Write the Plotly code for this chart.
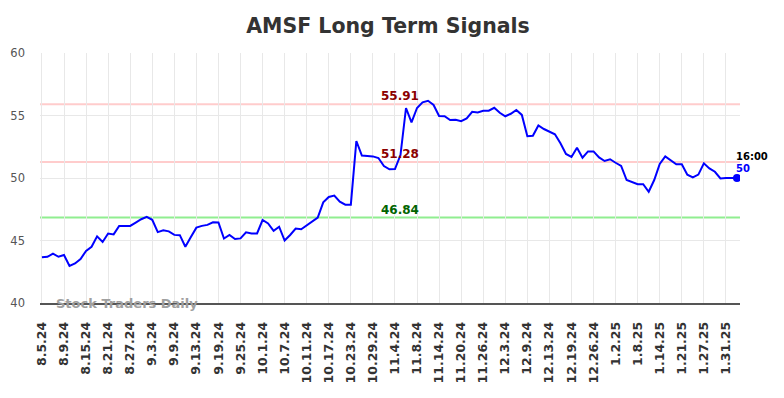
import pandas as pd
import plotly.graph_objects as go

# Trading days 8.5.24 .. 2.4.25 (US market holidays removed)
holidays = ["2024-09-02", "2024-11-28", "2024-12-25", "2025-01-01", "2025-01-20"]
days = [d for d in pd.bdate_range("2024-08-05", "2025-02-04") if d.strftime("%Y-%m-%d") not in holidays]
dates = [f"{d.month}.{d.day}.{d.strftime('%y')}" for d in days]

prices = [
    43.66, 43.70, 43.95, 43.70, 43.84, 42.97, 43.16, 43.52, 44.17, 44.50,
    45.33, 44.88, 45.56, 45.49, 46.17, 46.17, 46.17, 46.43, 46.70, 46.90,
    46.66, 45.67, 45.82, 45.73, 45.45, 45.43, 44.50, 45.28, 46.03, 46.17,
    46.25, 46.46, 46.44, 45.16, 45.44, 45.12, 45.17, 45.66, 45.57, 45.57,
    46.64, 46.37, 45.78, 46.10, 45.00, 45.44, 45.95, 45.90, 46.20, 46.50,
    46.83, 48.05, 48.48, 48.59, 48.10, 47.87, 47.87, 52.96, 51.80, 51.76,
    51.73, 51.60, 50.96, 50.70, 50.72, 51.84, 55.60, 54.45, 55.60, 56.05,
    56.18, 55.84, 54.96, 54.94, 54.64, 54.66, 54.54, 54.77, 55.30, 55.25,
    55.38, 55.38, 55.62, 55.22, 54.94, 55.14, 55.44, 55.05, 53.34, 53.38,
    54.20, 53.92, 53.68, 53.50, 52.78, 51.92, 51.68, 52.42, 51.62, 52.13,
    52.13, 51.65, 51.36, 51.50, 51.22, 50.96, 49.84, 49.66, 49.50, 49.50,
    48.90, 49.84, 51.12, 51.73, 51.44, 51.10, 51.10, 50.27, 50.05, 50.27,
    51.17, 50.77, 50.50, 49.97, 50.00, 50.00, 50.00,
]

tick_labels = [
    "8.5.24", "8.9.24", "8.15.24", "8.21.24", "8.27.24", "9.3.24", "9.9.24",
    "9.13.24", "9.19.24", "9.25.24", "10.1.24", "10.7.24", "10.11.24",
    "10.17.24", "10.23.24", "10.29.24", "11.4.24", "11.8.24", "11.14.24",
    "11.20.24", "11.26.24", "12.3.24", "12.9.24", "12.13.24", "12.19.24",
    "12.26.24", "1.2.25", "1.8.25", "1.14.25", "1.21.25", "1.27.25", "1.31.25",
]

levels = [55.91, 51.28, 46.84]
level_colors = ["#ffcccc", "#ffcccc", "#90ee90"]
level_text_colors = ["#8b0000", "#8b0000", "#006400"]
last_label_time = "16:00"
y_ticks = [40, 45, 50, 55, 60]

FONT = "DejaVu Sans"
fig = go.Figure()

for lv, c in zip(levels, level_colors):
    fig.add_shape(type="line", xref="paper", x0=0, x1=1, yref="y", y0=lv, y1=lv,
                  line=dict(color=c, width=2), layer="below")

fig.add_trace(go.Scatter(x=dates, y=prices, mode="lines",
                         line=dict(color="#0000ff", width=2), hoverinfo="skip"))
fig.add_trace(go.Scatter(x=[dates[-1]], y=[prices[-1]], mode="markers",
                         marker=dict(color="#0000ff", size=8), hoverinfo="skip"))

label_x = dates[65]
for lv, tc in zip(levels, level_text_colors):
    fig.add_annotation(x=label_x, y=lv, text=f"<b>{lv:.2f}</b>", showarrow=False,
                       yanchor="bottom", xanchor="center", yshift=-1,
                       font=dict(family=FONT, size=12, color=tc))

fig.add_annotation(x=dates[-1], y=prices[-1], text=f"<b>{last_label_time}</b>", showarrow=False,
                   xanchor="left", yanchor="bottom", xshift=-3, yshift=14,
                   font=dict(family=FONT, size=10, color="#000000"))
fig.add_annotation(x=dates[-1], y=prices[-1], text=f"<b>{prices[-1]:g}</b>", showarrow=False,
                   xanchor="left", yanchor="bottom", xshift=-3, yshift=2,
                   font=dict(family=FONT, size=10, color="#0000ff"))

fig.add_annotation(xref="paper", yref="paper", x=0.02, y=0, text="<b>Stock Traders Daily</b>",
                   showarrow=False, xanchor="left", yanchor="middle",
                   font=dict(family=FONT, size=13, color="#a0a0a0"))

# page body has an 8px default margin, so the figure is 8px smaller in each direction
fig.update_layout(
    width=776, height=390,
    margin=dict(l=32, r=44, t=45, b=95),
    paper_bgcolor="white", plot_bgcolor="white",
    showlegend=False,
    title=dict(text="<b>AMSF Long Term Signals</b>", x=0.4897, xanchor="center", y=0.954, yanchor="middle",
               font=dict(family=FONT, size=20.5, color="#333333")),
)
fig.update_xaxes(type="category", range=[-0.35, len(dates) - 0.45], automargin=False,
                 tickmode="array", tickvals=tick_labels, ticktext=tick_labels,
                 tickangle=-90, ticklabelstandoff=12,
                 tickfont=dict(family=FONT, size=12.5, color="#333333", weight="bold"),
                 showgrid=True, gridcolor="#e8e8e8", gridwidth=1,
                 showline=True, linecolor="#555555", linewidth=1.5,
                 ticks="", zeroline=False)
fig.update_yaxes(range=[40, 60], tickvals=y_ticks, ticks="", ticklabelstandoff=14, automargin=False,
                 tickfont=dict(family=FONT, size=11.5, color="#555555"),
                 showgrid=True, gridcolor="#e8e8e8", gridwidth=1, zeroline=False)

fig.write_html("out.html")
